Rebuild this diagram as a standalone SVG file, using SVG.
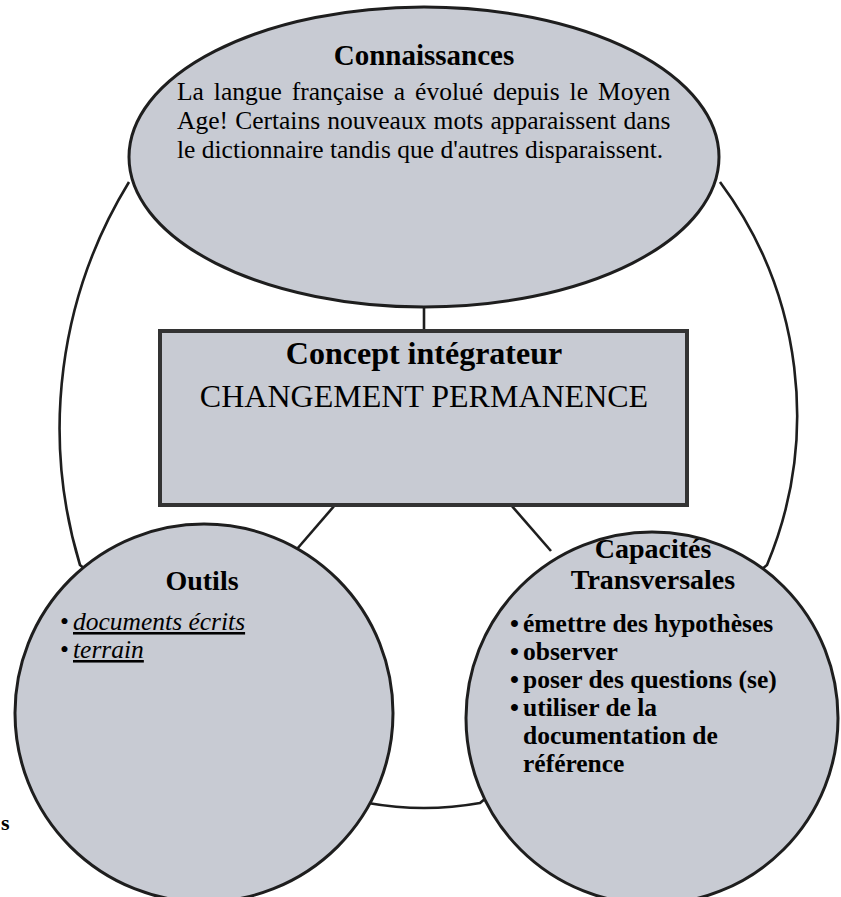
<svg xmlns="http://www.w3.org/2000/svg" width="841" height="897" viewBox="0 0 841 897">
<defs>
<style>
.bg{fill:#ffffff}
.node{fill:#c8cbd3;stroke:#1e1e1e;stroke-width:3}
.box{fill:#c8cbd3;stroke:#333333;stroke-width:4}
.ring{fill:none;stroke:#1e1e1e;stroke-width:2.6}
.conn{fill:none;stroke:#1e1e1e;stroke-width:2.6}
.t{font-family:"Liberation Serif","Times New Roman",serif;fill:#000}
.b{font-weight:bold}
.i{font-style:italic}
.u{text-decoration:underline}
</style>
</defs>
<rect class="bg" x="0" y="0" width="841" height="897"/>
<g id="outer-ring">
<path class="ring" d="M 129 182 A 471 471 0 0 0 80 565 L 368 803 Q 424 813 480 803 L 767 565 A 390 390 0 0 0 720 182"/>
</g>
<g id="connectors">
<line class="conn" x1="424" y1="300" x2="424" y2="331"/>
<line class="conn" x1="335" y1="505" x2="297" y2="549"/>
<line class="conn" x1="511" y1="505" x2="551" y2="551"/>
</g>
<g id="connaissances">
<ellipse class="node" cx="424" cy="157" rx="295" ry="150"/>
<text class="t b" x="424" y="65" font-size="29" text-anchor="middle">Connaissances</text>
<text class="t" x="177" y="100" font-size="25.5" word-spacing="3.6">La langue française a évolué depuis le Moyen</text>
<text class="t" x="177" y="129" font-size="25.5" word-spacing="0.8">Age! Certains nouveaux mots apparaissent dans</text>
<text class="t" x="177" y="158" font-size="25.5">le dictionnaire tandis que d'autres disparaissent.</text>
</g>
<g id="concept">
<rect class="box" x="160" y="331" width="527" height="174"/>
<text class="t b" x="424" y="364" font-size="32" text-anchor="middle">Concept intégrateur</text>
<text class="t" x="424" y="407" font-size="32" text-anchor="middle">CHANGEMENT PERMANENCE</text>
</g>
<g id="outils">
<circle class="node" cx="204" cy="713" r="189"/>
<text class="t b" x="202" y="590" font-size="28" text-anchor="middle">Outils</text>
<text class="t" x="60" y="630" font-size="25.5">•</text>
<text class="t i u" x="73" y="630" font-size="25.5">documents écrits</text>
<text class="t" x="60" y="658" font-size="25.5">•</text>
<text class="t i u" x="73" y="658" font-size="25.5">terrain</text>
</g>
<g id="capacites">
<circle class="node" cx="652" cy="718" r="186"/>
<text class="t b" x="653" y="558" font-size="28" text-anchor="middle">Capacités</text>
<text class="t b" x="653" y="589" font-size="28" text-anchor="middle">Transversales</text>
<text class="t b" x="510" y="632" font-size="25.5">•</text>
<text class="t b" x="523" y="632" font-size="25.5">émettre des hypothèses</text>
<text class="t b" x="510" y="660" font-size="25.5">•</text>
<text class="t b" x="523" y="660" font-size="25.5">observer</text>
<text class="t b" x="510" y="688" font-size="25.5">•</text>
<text class="t b" x="523" y="688" font-size="25.5">poser des questions (se)</text>
<text class="t b" x="510" y="716" font-size="25.5">•</text>
<text class="t b" x="523" y="716" font-size="25.5">utiliser de la</text>
<text class="t b" x="523" y="744" font-size="25.5">documentation de</text>
<text class="t b" x="523" y="772" font-size="25.5">référence</text>
</g>
<g id="fragment">
<text class="t b" x="1" y="830" font-size="22">s</text>
</g>
</svg>
